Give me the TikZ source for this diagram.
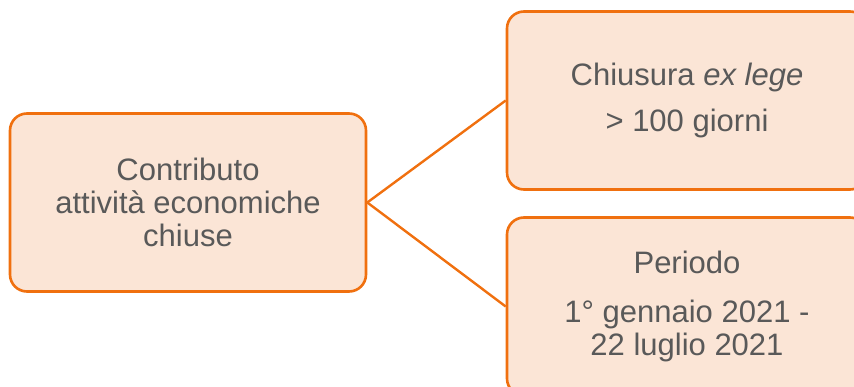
\documentclass[tikz,border=0pt]{standalone}
\usepackage{fontspec}
\setmainfont{Liberation Sans}
\definecolor{boxfill}{HTML}{FBE5D6}
\definecolor{boxline}{HTML}{F0700F}
\definecolor{txt}{HTML}{595959}
\begin{document}
\begin{tikzpicture}[x=1pt,y=-1pt,
  box/.style={draw=boxline, fill=boxfill, line width=2.6pt, rounded corners=17pt,
    minimum width=356pt, minimum height=178pt, inner sep=0pt, align=center,
    text=txt, font=\fontsize{31}{33}\selectfont},
  link/.style={draw=boxline, line width=2.4pt}]
\useasboundingbox (0,0) rectangle (854,387);
\clip (0,0) rectangle (854,387);
\node[box] (main) at (188,202.5) {Contributo\\attività economiche\\chiuse};
\node[box, minimum width=360pt] (top) at (687,100.5) {Chiusura \textit{ex lege}\\[13pt]> 100 giorni};
\node[box, minimum width=360pt] (bot) at (687,306.5) {Periodo\\[16pt]1° gennaio 2021 -\\22 luglio 2021};
\draw[link] (main.east) -- (top.west);
\draw[link] (main.east) -- (bot.west);
\end{tikzpicture}
\end{document}
